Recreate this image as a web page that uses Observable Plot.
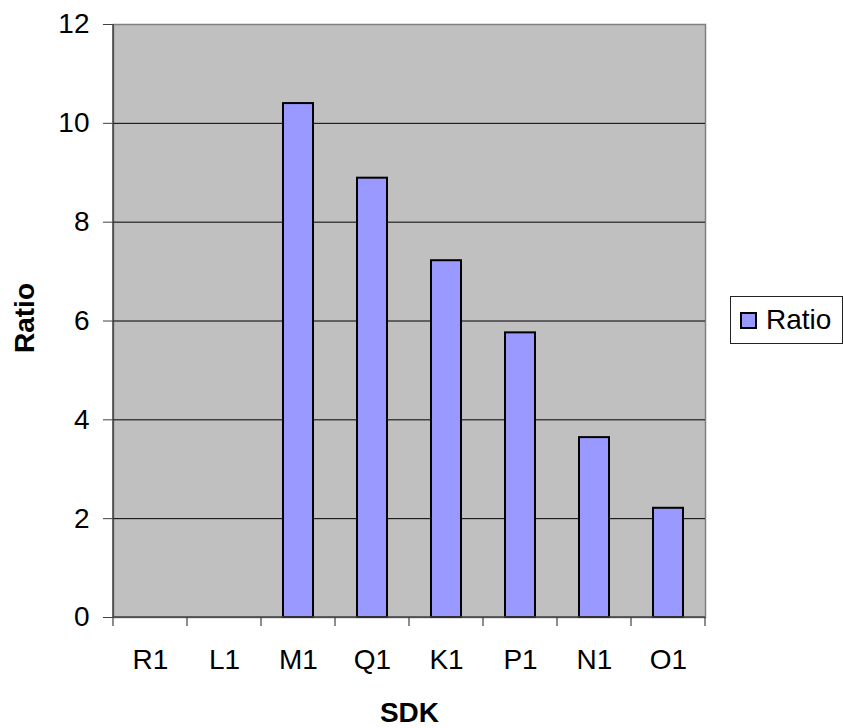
<!DOCTYPE html>
<html><head><meta charset="utf-8">
<script src="https://cdn.jsdelivr.net/npm/d3@7"></script>
<script src="https://cdn.jsdelivr.net/npm/@observablehq/plot@0.6"></script>
<style>
body{margin:0;background:#fff;font-family:Arial,"Liberation Sans",sans-serif}
#wrap{position:relative;width:843px;height:728px}
#legend{position:absolute;left:730px;top:296px;width:113px;height:48px;border:1px solid #222;background:#fff;box-sizing:border-box;display:flex;align-items:center;font-size:28px;color:#000}
#legend .sw{width:13px;height:13px;background:#9999ff;border:2px solid #000;margin-left:9px;margin-right:9px;flex:none}
</style></head><body>
<div id="wrap"><div id="chart"></div><div id="legend"><span class="sw"></span><span id="legtext"></span></div></div>
<script>
const categories = ["R1","L1","M1","Q1","K1","P1","N1","O1"];
const ratio = [null,null,10.4,8.89,7.22,5.76,3.64,2.21];
const yTicks = [0,2,4,6,8,10,12];
const seriesName = "Ratio";
const xTitle = "SDK";
const yTitle = "Ratio";

const data = categories.map((c,i)=>({sdk:c, ratio: ratio[i]}));

function axisDecor(index, scales, values, dims) {
  const x = scales.x, step = x.step(), bw = x.bandwidth();
  const y0 = dims.height - dims.marginBottom;
  const g = d3.create("svg:g");
  const half = (step - bw) / 2;
  const bounds = categories.map(c => x(c) - half).concat([x(categories[categories.length-1]) + bw + half]);
  g.selectAll("line.t").data(bounds).join("line").attr("class","t")
    .attr("x1",d=>d).attr("x2",d=>d).attr("y1",y0).attr("y2",y0+9)
    .attr("stroke","#404040").attr("stroke-width",1.2);
  g.append("line").attr("x1",dims.marginLeft).attr("x2",dims.width-dims.marginRight)
    .attr("y1",y0).attr("y2",y0).attr("stroke","#404040").attr("stroke-width",1.5);
  g.append("line").attr("x1",dims.marginLeft).attr("x2",dims.marginLeft)
    .attr("y1",dims.marginTop).attr("y2",y0).attr("stroke","#404040").attr("stroke-width",1.5);
  return g.node();
}

const chart = Plot.plot({
  width: 843, height: 728,
  marginLeft: 113, marginRight: 138, marginTop: 24, marginBottom: 111,
  style: {fontFamily: "Arial, 'Liberation Sans', sans-serif", fontSize: "28px", background: "white", color: "#000", overflow: "visible"},
  x: {domain: categories, paddingInner: 0.595, paddingOuter: 0.2975, label: null},
  y: {domain: [0,12], ticks: yTicks, label: null},
  marks: [
    Plot.frame({fill: "#c0c0c0", stroke: "#808080", strokeWidth: 1.5}),
    Plot.gridY(yTicks.filter(t => t > 0 && t < 12), {stroke: "#000", strokeOpacity: 1, strokeWidth: 1}),
    Plot.barY(data.filter(d => d.ratio != null), {x: "sdk", y: "ratio", fill: "#9999ff", stroke: "#000", strokeWidth: 2}),
    Plot.axisY(yTicks, {tickSize: 10, tickPadding: 14, stroke: "#404040", fill: "#000", fontSize: 28, label: null}),
    Plot.axisX({tickSize: 0, tickPadding: 32, fill: "#000", fontSize: 28, label: null}),
    axisDecor,
    Plot.text([yTitle], {frameAnchor: "left", textAnchor: "middle", lineAnchor: "middle", rotate: -90, dx: -88, dy: -3, fontWeight: "bold", fontSize: 28, fill: "#000"}),
    Plot.text([xTitle], {frameAnchor: "bottom", textAnchor: "middle", lineAnchor: "middle", dy: 96, fontWeight: "bold", fontSize: 28, fill: "#000"})
  ]
});
document.getElementById("chart").append(chart);
document.getElementById("legtext").textContent = seriesName;
</script>
</body></html>
